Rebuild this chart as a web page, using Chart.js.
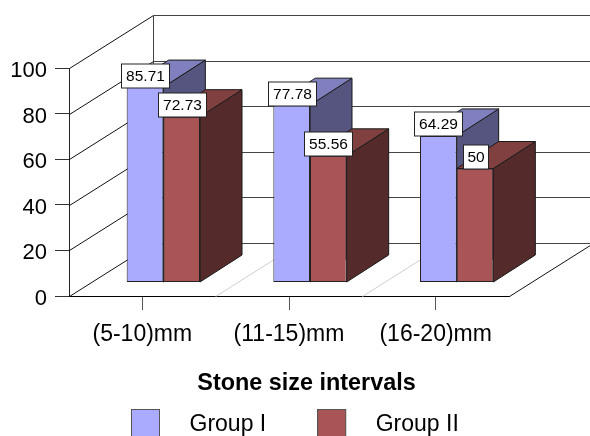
<!DOCTYPE html>
<html><head><meta charset="utf-8">
<style>html,body{margin:0;padding:0;background:#fff}#w{width:590px;height:436px;overflow:hidden}</style>
<script src="https://cdn.jsdelivr.net/npm/chart.js@4"></script></head>
<body><div id="w"><canvas id="c" width="590" height="436"></canvas></div>
<script>
const categories = ['(5-10)mm', '(11-15)mm', '(16-20)mm'];
const seriesNames = ['Group I', 'Group II'];
const groupI = [85.71, 77.78, 64.29];
const groupII = [72.73, 55.56, 50];
const yTicks = [0, 20, 40, 60, 80, 100];
const frontColors = ['#AAAAFF', '#AA5555'];
const topColors = ['#8080BF', '#804040'];
const sideColors = ['#555580', '#552A2A'];

const FONT = '"Liberation Sans", Arial, sans-serif';
const WALL = {dx: 84, dy: 53};
const BAR = {dx: 21, dy: 13.5, depthX: 42, depthY: 27};

function swatch(color) {
  const s = document.createElement('canvas');
  s.width = 47; s.height = 32;
  const g = s.getContext('2d');
  g.fillStyle = color; g.fillRect(0, 0, 29, 29);
  g.strokeStyle = '#555'; g.lineWidth = 1; g.strokeRect(0.5, 0.5, 28, 28);
  return s;
}
const swatches = frontColors.map(swatch);

function seg(ctx, x1, y1, x2, y2, color) {
  ctx.strokeStyle = color; ctx.lineWidth = 1;
  ctx.beginPath(); ctx.moveTo(x1, y1); ctx.lineTo(x2, y2); ctx.stroke();
}
function poly(ctx, pts, fill) {
  ctx.fillStyle = fill; ctx.strokeStyle = '#1a1a1a'; ctx.lineWidth = 1;
  ctx.beginPath(); pts.forEach((p, i) => i ? ctx.lineTo(p[0], p[1]) : ctx.moveTo(p[0], p[1]));
  ctx.closePath(); ctx.fill(); ctx.stroke();
}

const frame3d = {
  id: 'frame3d',
  afterLayout(chart) {
    const l = chart.legend;
    l.left = 80; l.right = l.left + 590; l.top = 362.5;
  },
  beforeDatasetsDraw(chart) {
    const {ctx, scales: {x, y}} = chart;
    const L = x.left + 0.5, R = x.right + 0.5, B = y.getPixelForValue(0) + 0.5, T = y.getPixelForValue(100) + 0.5;
    ctx.save();
    yTicks.forEach(v => {
      const py = Math.round(y.getPixelForValue(v)) + 0.5;
      seg(ctx, L, py, L + WALL.dx, py - WALL.dy, '#111');
      seg(ctx, L + WALL.dx, py - WALL.dy, R + WALL.dx, py - WALL.dy, '#444');
    });
    seg(ctx, L + WALL.dx, T - WALL.dy, L + WALL.dx, B - WALL.dy, '#444');
    seg(ctx, R, B, R + WALL.dx, B - WALL.dy, '#111');
    for (let i = 1; i < categories.length; i++) {
      const px = (x.getPixelForValue(i - 1) + x.getPixelForValue(i)) / 2;
      seg(ctx, px, B, px + WALL.dx, B - WALL.dy, '#cfcfcf');
    }
    ctx.restore();
  },
  // Native per-dataset drawing runs right-to-left; the 3D stacking needs left-to-right.
  beforeDatasetDraw() { return false; },
  afterDatasetsDraw(chart) {
    const ctx = chart.ctx;
    ctx.save();
    ctx.translate(BAR.dx, BAR.dy * -1);
    chart.data.datasets.forEach((ds, i) => {
      const meta = chart.getDatasetMeta(i);
      meta.data.forEach(b => {
        const l = b.x - b.width / 2, r = b.x + b.width / 2, t = b.y, bt = b.base;
        poly(ctx, [[r, t], [r + BAR.depthX, t - BAR.depthY], [r + BAR.depthX, bt - BAR.depthY], [r, bt]], sideColors[i]);
        poly(ctx, [[l, t], [l + BAR.depthX, t - BAR.depthY], [r + BAR.depthX, t - BAR.depthY], [r, t]], topColors[i]);
      });
      meta.controller.draw();
    });
    ctx.font = '15.5px ' + FONT;
    ctx.textAlign = 'center'; ctx.textBaseline = 'middle';
    chart.data.datasets.forEach((ds, i) => {
      chart.getDatasetMeta(i).data.forEach((b, j) => {
        const txt = String(ds.data[j]);
        const w = Math.round(ctx.measureText(txt).width + 6 + txt.length * 0.7), h = 24;
        const bx = Math.round(b.x - w / 2) + 0.5, by = Math.round(b.y - h) + 0.5;
        ctx.fillStyle = '#fff'; ctx.strokeStyle = '#222'; ctx.lineWidth = 1;
        ctx.fillRect(bx, by, w, h); ctx.strokeRect(bx, by, w, h);
        ctx.fillStyle = '#000';
        ctx.fillText(txt, bx + w / 2, by + h / 2 + 0.5);
      });
    });
    ctx.restore();
  }
};

new Chart(document.getElementById('c'), {
  type: 'bar',
  data: {
    labels: categories,
    datasets: [
      {label: seriesNames[0], data: groupI, backgroundColor: frontColors[0]},
      {label: seriesNames[1], data: groupII, backgroundColor: frontColors[1]}
    ]
  },
  plugins: [frame3d],
  options: {
    responsive: false,
    animation: false,
    events: [],
    layout: {padding: {top: 68, right: 81, left: 0, bottom: 0}},
    datasets: {bar: {barPercentage: 1, categoryPercentage: 0.5, borderWidth: 1, borderColor: '#222', borderSkipped: false, clip: false}},
    scales: {
      x: {
        afterFit(s) {
          s.height = 139;
          if (!s._titleShifted) {
            s._titleShifted = true;
            const draw = s.drawTitle;
            s.drawTitle = function () {
              const c = this.ctx; c.save(); c.translate(17.5, 3.5);
              draw.apply(this, arguments); c.restore();
            };
          }
        },
        grid: {offset: false, drawOnChartArea: false, drawTicks: true, tickLength: 14, color: '#555'},
        border: {color: '#000'},
        ticks: {color: '#000', font: {family: FONT, size: 23}, padding: 11, maxRotation: 0},
        title: {display: true, text: 'Stone size intervals', color: '#000', font: {family: FONT, size: 23.4, weight: 'bold'}, padding: {top: 0, bottom: 41}}
      },
      y: {
        min: 0, max: 100,
        afterFit(s) {
          s.width = 69;
          if (!s._labelsShifted) {
            s._labelsShifted = true;
            const compute = s._computeLabelItems;
            s._computeLabelItems = function (area) {
              const items = compute.call(this, area);
              items.forEach(it => { it.options.translation[1] += 3; });
              return items;
            };
          }
        },
        afterBuildTicks(s) { s.ticks = yTicks.map(v => ({value: v})); },
        grid: {drawOnChartArea: false, drawTicks: true, tickLength: 14, color: '#333'},
        border: {color: '#222'},
        ticks: {color: '#000', font: {family: FONT, size: 22}, padding: 8}
      }
    },
    plugins: {
      tooltip: {enabled: false},
      title: {display: false},
      legend: {
        position: 'bottom', align: 'start', maxHeight: 1,
        labels: {
          usePointStyle: true, pointStyleWidth: 47, padding: 51,
          color: '#000', font: {family: FONT, size: 23},
          generateLabels: () => seriesNames.map((n, i) => ({text: n, pointStyle: swatches[i], fillStyle: frontColors[i], strokeStyle: '#555', lineWidth: 1, datasetIndex: i, hidden: false}))
        }
      }
    }
  }
});
</script></body></html>
